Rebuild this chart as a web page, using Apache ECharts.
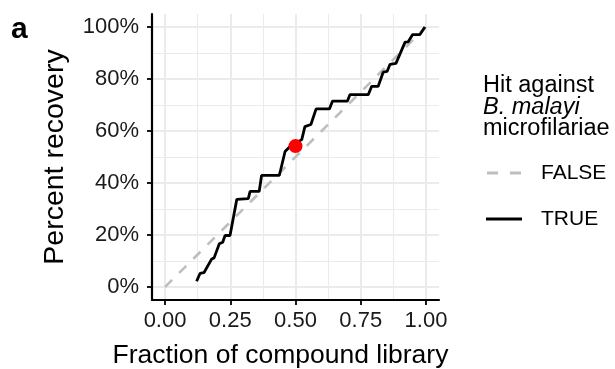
<!DOCTYPE html>
<html>
<head>
<meta charset="utf-8">
<script src="https://cdn.jsdelivr.net/npm/echarts/dist/echarts.min.js"></script>
<style>
  html, body { margin: 0; padding: 0; background: #fff; }
  #main { width: 615px; height: 369px; }
</style>
</head>
<body>
<div id="main"></div>
<script>
// cumulative recovery of hits (TRUE)
var fracLibrary = [0.121, 0.134, 0.149, 0.179, 0.188, 0.208, 0.221, 0.230, 0.249, 0.275,
  0.319, 0.326, 0.361, 0.370, 0.438, 0.460, 0.479, 0.524, 0.536, 0.559,
  0.579, 0.630, 0.642, 0.699, 0.709, 0.779, 0.792, 0.817, 0.836, 0.851,
  0.862, 0.885, 0.920, 0.932, 0.949, 0.977, 0.996];
var recoveryTrue = [0.022, 0.052, 0.055, 0.108, 0.112, 0.166, 0.172, 0.198, 0.198, 0.337,
  0.340, 0.368, 0.368, 0.429, 0.429, 0.521, 0.540, 0.567, 0.617, 0.625,
  0.685, 0.685, 0.715, 0.715, 0.740, 0.740, 0.772, 0.772, 0.826, 0.829,
  0.856, 0.860, 0.942, 0.943, 0.971, 0.971, 1.000];
// random expectation (FALSE)
var diagX = [0, 1];
var diagY = [0, 1];
// highlighted point
var hitX = [0.5];
var hitY = [0.542];

var xTicks = [0, 0.25, 0.5, 0.75, 1];
var xMinor = [0.125, 0.375, 0.625, 0.875];
var yTicks = [0, 0.2, 0.4, 0.6, 0.8, 1];
var yMinor = [0.1, 0.3, 0.5, 0.7, 0.9];

var FONT = '"Liberation Sans", Arial, Helvetica, sans-serif';

function pairs(xs, ys) {
  var out = [];
  for (var i = 0; i < xs.length; i++) out.push([xs[i], ys[i]]);
  return out;
}

var chart = echarts.init(document.getElementById('main'), null, { renderer: 'canvas' });

var option = {
  animation: false,
  backgroundColor: '#fff',
  textStyle: { fontFamily: FONT },
  grid: { left: 152, right: 176, top: 14, bottom: 69, containLabel: false, outerBoundsMode: 'none' },
  title: {
    left: 483,
    top: 75,
    padding: 0,
    text: '{n|Hit against}\n{i|B. malayi}\n{n|microfilariae}',
    textStyle: {
      rich: {
        n: { fontFamily: FONT, fontSize: 23.5, fontWeight: 'normal', color: '#000', lineHeight: 21.5 },
        i: { fontFamily: FONT, fontSize: 23.5, fontWeight: 'normal', color: '#000', fontStyle: 'italic', lineHeight: 21.5 }
      }
    }
  },
  legend: {
    orient: 'vertical',
    left: 486,
    top: 161,
    padding: 0,
    itemWidth: 36,
    itemHeight: 3,
    itemGap: 22,
    data: [
      { name: 'FALSE', icon: 'path://M0,0H11V3H0Z M23,0H34V3H23Z' },
      { name: 'TRUE', icon: 'path://M0,0H36V3H0Z' }
    ],
    textStyle: { fontFamily: FONT, fontSize: 21, lineHeight: 24, color: '#000', padding: [0, 0, 0, 14] }
  },
  graphic: [{
    type: 'text',
    left: 11,
    top: 15,
    style: { text: 'a', font: 'bold 30px ' + FONT, fill: '#000' }
  }],
  xAxis: [{
    type: 'value',
    min: -0.05,
    max: 1.05,
    name: 'Fraction of compound library',
    nameLocation: 'middle',
    nameGap: 42,
    nameTextStyle: { fontFamily: FONT, fontSize: 26.5, color: '#000', padding: [0, 30, 0, 0] },
    axisLine: { show: true, onZero: false, lineStyle: { color: '#000', width: 2.2 } },
    axisTick: { show: true, length: 5, customValues: xTicks, lineStyle: { color: '#000', width: 1.8 } },
    axisLabel: {
      customValues: xTicks, margin: 10, fontSize: 22, color: '#1a1a1a', fontFamily: FONT,
      formatter: function (v) { return v.toFixed(2); }
    },
    splitLine: { show: true, customValues: xTicks, lineStyle: { color: '#ebebeb', width: 2 } }
  }, {
    type: 'value',
    min: -0.05,
    max: 1.05,
    axisLine: { show: false, onZero: false },
    axisTick: { show: false, customValues: xMinor },
    axisLabel: { show: false, customValues: xMinor },
    splitLine: { show: true, customValues: xMinor, lineStyle: { color: '#ebebeb', width: 1.1 } }
  }],
  yAxis: [{
    type: 'value',
    min: -0.05,
    max: 1.05,
    name: 'Percent recovery',
    nameLocation: 'middle',
    nameRotate: 90,
    nameGap: 82,
    nameTextStyle: { fontFamily: FONT, fontSize: 28.5, color: '#000' },
    axisLine: { show: true, onZero: false, lineStyle: { color: '#000', width: 2.2 } },
    axisTick: { show: true, length: 5, customValues: yTicks, lineStyle: { color: '#000', width: 1.8 } },
    axisLabel: {
      customValues: yTicks, margin: 13, fontSize: 22, color: '#1a1a1a', fontFamily: FONT,
      formatter: function (v) { return Math.round(v * 100) + '%'; }
    },
    splitLine: { show: true, customValues: yTicks, lineStyle: { color: '#ebebeb', width: 2 } }
  }, {
    type: 'value',
    min: -0.05,
    max: 1.05,
    axisLine: { show: false, onZero: false },
    axisTick: { show: false, customValues: yMinor },
    axisLabel: { show: false, customValues: yMinor },
    splitLine: { show: true, customValues: yMinor, lineStyle: { color: '#ebebeb', width: 1.1 } }
  }],
  series: [{
    name: 'FALSE',
    type: 'line',
    data: pairs(diagX, diagY),
    symbol: 'none',
    itemStyle: { color: '#bebebe' },
    lineStyle: { color: '#bebebe', width: 2.6, type: [10, 10] },
    z: 2
  }, {
    name: 'TRUE',
    type: 'line',
    data: pairs(fracLibrary, recoveryTrue),
    symbol: 'none',
    itemStyle: { color: '#000' },
    lineStyle: { color: '#000', width: 2.8 },
    z: 3
  }, {
    name: 'hit',
    type: 'scatter',
    data: pairs(hitX, hitY),
    symbolSize: 14,
    itemStyle: { color: '#ff0000', opacity: 1 },
    z: 4
  }]
};

chart.setOption(option);
</script>
</body>
</html>
